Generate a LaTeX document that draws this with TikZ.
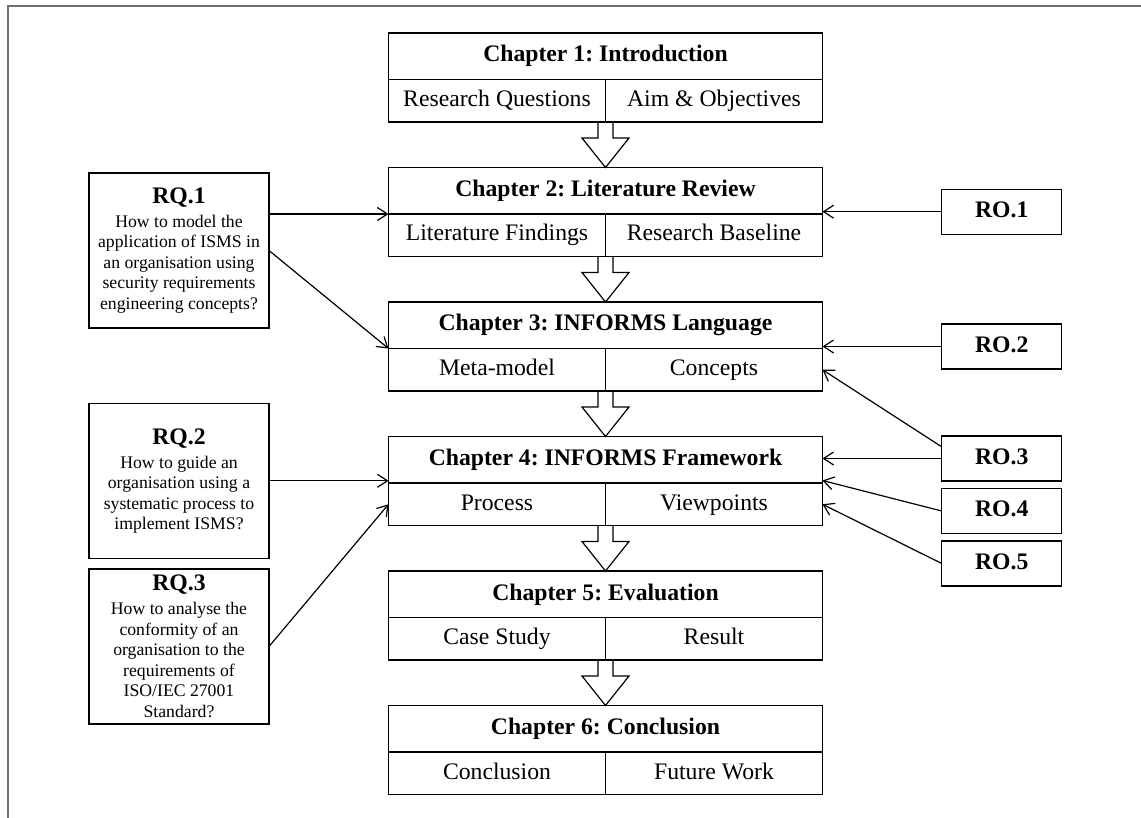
\documentclass[tikz,border=0pt]{standalone}
\usepackage{fontspec}
\setmainfont{Liberation Serif}
\usetikzlibrary{arrows.meta,calc}
\frenchspacing

\definecolor{framegray}{RGB}{112,112,112}
\newcommand\bigfont{\fontsize{23.7}{27}\selectfont}
\newcommand\bodyfont{\fontsize{17.7}{20.5}\selectfont}

% one chapter: header row and two cells below it
% #1 name prefix, #2 top edge, #3 header, #4 left cell, #5 right cell
\newcommand\chapterbox[5]{%
  \node[headcell] (#1t) at (605.5,#2+23.25) {#3};
  \node[subcell] (#1a) at (497,#2+67.75) {#4};
  \node[subcell] (#1b) at (714,#2+67.75) {#5};}

% hollow block arrow from the bottom of one chapter to the top of the next
\newcommand\blockarrow[2]{%
  \draw[blockarr] ($(#1)+(-7.5,0)$) -- ($(#1)+(-7.5,16)$) -- ($(#1)+(-23.5,16)$)
    -- (#2) -- ($(#1)+(23.5,16)$) -- ($(#1)+(7.5,16)$) -- ($(#1)+(7.5,0)$);}

% question box text: bold heading, then the question lines
\newcommand\rqtext[2]{\parbox{178pt}{\centering\bodyfont
  {\bigfont\bfseries #1}\\[3.5pt]#2\par}}

\begin{document}
\begin{tikzpicture}[x=1pt,y=-1pt,
  every node/.style={inner sep=0pt,outer sep=0pt},
  cell/.style={draw,line width=1.2pt,font=\bigfont,text height=16.5pt,text depth=5pt},
  headcell/.style={cell,minimum width=434pt,minimum height=46.5pt,font=\bigfont\bfseries},
  subcell/.style={cell,minimum width=217pt,minimum height=42.5pt},
  rqbox/.style={draw,line width=1.2pt,minimum width=180pt,minimum height=155pt},
  robox/.style={draw,line width=1.2pt,minimum width=120pt,minimum height=45pt,
    text height=16.5pt,text depth=5pt,font=\bigfont\bfseries},
  link/.style={line width=1.2pt,-{Straight Barb[length=10pt,width=13pt,line width=1.2pt]}},
  blockarr/.style={line width=1.2pt,line join=miter},
]
\useasboundingbox (0,0) rectangle (1141,818);

% page frame
\draw[framegray,line width=1.7pt] (8.3,830) -- (8.3,5.7) -- (1150,5.7);

% chapters
\chapterbox{c1}{33}{Chapter 1: Introduction}{Research Questions}{Aim \& Objectives}
\chapterbox{c2}{167.5}{Chapter 2: Literature Review}{Literature Findings}{Research Baseline}
\chapterbox{c3}{302}{Chapter 3: INFORMS Language}{Meta-model}{Concepts}
\chapterbox{c4}{436.5}{Chapter 4: INFORMS Framework}{Process}{Viewpoints}
\chapterbox{c5}{571}{Chapter 5: Evaluation}{Case Study}{Result}
\chapterbox{c6}{705.5}{Chapter 6: Conclusion}{Conclusion}{Future Work}

\blockarrow{c1a.south east}{c2t.north}
\blockarrow{c2a.south east}{c3t.north}
\blockarrow{c3a.south east}{c4t.north}
\blockarrow{c4a.south east}{c5t.north}
\blockarrow{c5a.south east}{c6t.north}

% research questions
\node[rqbox] (rq1) at (179,250.5) {\rqtext{RQ.1}{How to model the\\application of ISMS in\\an organisation using\\security requirements\\engineering concepts?}};
\node[rqbox] (rq2) at (179,480.8) {\rqtext{RQ.2}{How to guide an\\organisation using a\\systematic process to\\implement ISMS?}};
\node[rqbox] (rq3) at (179,646.5) {\rqtext{RQ.3}{How to analyse the\\conformity of an\\organisation to the\\requirements of\\ISO/IEC 27001\\Standard?}};

% research objectives
\node[robox] (ro1) at (1001.7,211.7) {RO.1};
\node[robox] (ro2) at (1001.7,346.5) {RO.2};
\node[robox] (ro3) at (1001.7,458.5) {RO.3};
\node[robox] (ro4) at (1001.7,511) {RO.4};
\node[robox] (ro5) at (1001.7,563.5) {RO.5};

% connectors
\draw[link] (rq1.east |- c2t.south west) -- (c2t.south west);
\draw[link] (rq1.east) -- (c3t.south west);
\draw[link] (rq2.east) -- (rq2.east -| c4t.west);
\draw[link] (rq3.east) -- (c4a.west);

\draw[link] (ro1.west) -- (ro1.west -| c2t.east);
\draw[link] (ro2.west) -- (ro2.west -| c3t.east);
\draw[link] ($(ro3.north west)!0.24!(ro3.south west)$) -- (c3b.east);
\draw[link] (ro3.west) -- (ro3.west -| c4t.east);
\draw[link] (ro4.west) -- ($(c4t.south east)+(0,-2.5)$);
\draw[link] (ro5.west) -- (c4b.east);
\end{tikzpicture}
\end{document}
